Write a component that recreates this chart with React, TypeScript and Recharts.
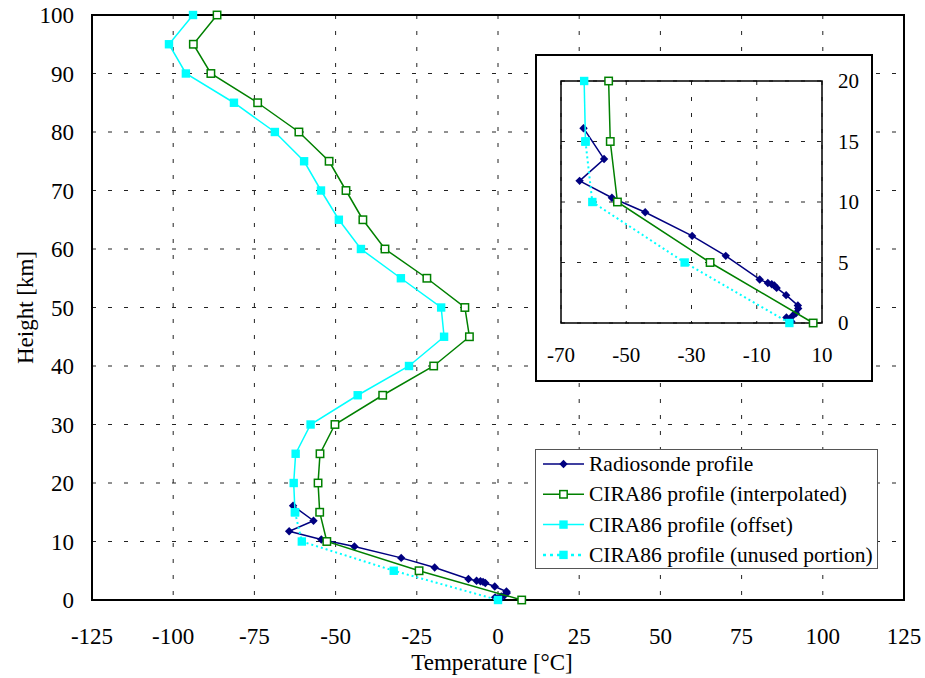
import React from 'react';
import {
  ScatterChart,
  Scatter,
  XAxis,
  YAxis,
  CartesianGrid,
  ReferenceArea,
} from 'recharts';

const NAVY = '#000080';
const GREEN = '#008000';
const CYAN = '#00FFFF';
const GRID = '#222';
const FONT = 'Liberation Serif, DejaVu Serif, serif';

// main axes
const X_TICKS = [-125, -100, -75, -50, -25, 0, 25, 50, 75, 100, 125];
const Y_TICKS = [0, 10, 20, 30, 40, 50, 60, 70, 80, 90, 100];
// zoomed troposphere panel
const INSET_X_TICKS = [-70, -50, -30, -10, 10];
const INSET_Y_TICKS = [0, 5, 10, 15, 20];

// radiosonde ascent, surface upwards (km, °C)
const SONDE_H = [0.12, 0.27, 0.45, 0.6, 0.8, 1.2, 1.45, 2.3, 2.9, 3.1, 3.2, 3.3, 3.6, 5.55, 7.2, 9.15, 10.35, 11.75, 13.55, 16.1];
const SONDE_T = [0.6, 0, -0.9, 1.0, 2.0, 2.7, 2.6, -1.0, -3.9, -4.6, -5.4, -6.6, -9.1, -19.5, -29.8, -44.2, -54.4, -64.3, -56.8, -63.1];

// CIRA86 levels, top down
const CIRA_H = [100, 95, 90, 85, 80, 75, 70, 65, 60, 55, 50, 45, 40, 35, 30, 25, 20, 15, 10, 5, 0];
const CIRA_INTERP_T = [-86.5, -93.8, -88.4, -74.0, -61.3, -52.0, -46.8, -41.6, -34.8, -21.9, -10.2, -8.8, -19.8, -35.5, -50.2, -54.8, -55.4, -54.9, -52.7, -24.3, 7.3];
const CIRA_OFFSET_T = [-93.9, -101.3, -96.1, -81.3, -68.7, -59.7, -54.5, -49.0, -42.2, -29.9, -17.5, -16.6, -27.4, -43.2, -57.7, -62.3, -62.9, -62.5, -60.4, -32.1, 0];
// offset profile is used down to 15 km, the rest is the unused tail
const OFFSET_CUT = 17;

type Pt = { t: number; h: number };
const toPoints = (temps: number[], heights: number[]): Pt[] =>
  temps.map((t, i) => ({ t, h: heights[i] }));

const sonde = toPoints(SONDE_T, SONDE_H);
const ciraInterp = toPoints(CIRA_INTERP_T, CIRA_H);
const ciraOffsetAll = toPoints(CIRA_OFFSET_T, CIRA_H);
const ciraOffset = ciraOffsetAll.slice(0, OFFSET_CUT + 1);
const ciraUnused = ciraOffsetAll.slice(OFFSET_CUT);

const Diamond = (props: any) => {
  const { cx, cy } = props;
  if (cx == null || cy == null) return null;
  const r = 4.2;
  return <path d={`M${cx},${cy - r}L${cx + r},${cy}L${cx},${cy + r}L${cx - r},${cy}Z`} fill={NAVY} />;
};

const OpenSquare = (props: any) => {
  const { cx, cy } = props;
  if (cx == null || cy == null) return null;
  return <rect x={cx - 3.7} y={cy - 3.7} width={7.4} height={7.4} fill="#fff" stroke={GREEN} strokeWidth={1.5} />;
};

const FilledSquare = (props: any) => {
  const { cx, cy } = props;
  if (cx == null || cy == null) return null;
  return <rect x={cx - 4.2} y={cy - 4.2} width={8.4} height={8.4} fill={CYAN} />;
};

const tickStyle = (size: number) => ({ fontSize: size, fill: '#000', fontFamily: FONT, style: { fontFamily: FONT } });

function renderSeries(maxH?: number) {
  const keep = (pts: Pt[]) => (maxH == null ? pts : pts.filter((p) => p.h <= maxH));
  return [
    <Scatter key="sonde" data={keep(sonde)} fill={NAVY} shape={Diamond}
      line={{ stroke: NAVY, strokeWidth: 1.5 }} lineType="joint" isAnimationActive={false} />,
    <Scatter key="interp" data={keep(ciraInterp)} fill={GREEN} shape={OpenSquare}
      line={{ stroke: GREEN, strokeWidth: 1.5 }} lineType="joint" isAnimationActive={false} />,
    <Scatter key="offset" data={keep(ciraOffset)} fill={CYAN} shape={FilledSquare}
      line={{ stroke: CYAN, strokeWidth: 1.5 }} lineType="joint" isAnimationActive={false} />,
    <Scatter key="unused" data={keep(ciraUnused)} fill={CYAN} shape={FilledSquare}
      line={{ stroke: CYAN, strokeWidth: 2, strokeDasharray: '2 3' }} lineType="joint" isAnimationActive={false} />,
  ];
}

const LEGEND = [
  { label: 'Radiosonde profile', color: NAVY, marker: 'diamond', dash: undefined },
  { label: 'CIRA86 profile (interpolated)', color: GREEN, marker: 'open', dash: undefined },
  { label: 'CIRA86 profile (offset)', color: CYAN, marker: 'filled', dash: undefined },
  { label: 'CIRA86 profile (unused portion)', color: CYAN, marker: 'filled', dash: '3 4' },
];

function LegendBox() {
  const rowH = 30.3;
  return (
    <div style={{ position: 'absolute', left: 535, top: 449, width: 343, height: 120, boxSizing: 'border-box', border: '1.5px solid #555', background: '#fff' }}>
      <svg width={340} height={117}>
        {LEGEND.map((it, i) => {
          const y = 14 + i * rowH;
          const mx = 27.5;
          return (
            <g key={it.label}>
              <line x1={7} x2={48} y1={y} y2={y} stroke={it.color} strokeWidth={it.dash ? 2.5 : 1.5} strokeDasharray={it.dash} />
              {it.marker === 'diamond' && <Diamond cx={mx} cy={y} />}
              {it.marker === 'open' && <OpenSquare cx={mx} cy={y} />}
              {it.marker === 'filled' && <FilledSquare cx={mx} cy={y} />}
              <text x={53} y={y + 7} fontSize={21.5} style={{ fontFamily: FONT }} fill="#000">{it.label}</text>
            </g>
          );
        })}
      </svg>
    </div>
  );
}

export default function App() {
  return (
    <div style={{ position: 'absolute', left: 0, top: 0, width: 925, height: 678, background: '#fff', fontFamily: FONT }}>
      <ScatterChart width={925} height={678} margin={{ top: 15, right: 21, bottom: 18, left: 0 }} style={{ fontFamily: FONT }}>
        <CartesianGrid stroke={GRID} strokeDasharray="4 12" />
        <XAxis
          type="number"
          dataKey="t"
          domain={[-125, 125]}
          ticks={X_TICKS}
          height={60}
          axisLine={false}
          tickLine={false}
          tickSize={0}
          tickMargin={28}
          tick={tickStyle(23)}
          label={{
            content: (p: any) => {
              const vb = p.viewBox || { x: 92, width: 812, y: 600, height: 60 };
              return (
                <text x={vb.x + vb.width / 2 - 6} y={vb.y + 70} textAnchor="middle" fontSize={23} style={{ fontFamily: FONT }} fill="#000">
                  Temperature [°C]
                </text>
              );
            },
          }}
        />
        <YAxis
          type="number"
          dataKey="h"
          domain={[0, 100]}
          ticks={Y_TICKS}
          width={92}
          axisLine={false}
          tickLine={false}
          tickSize={0}
          tickMargin={18}
          tick={tickStyle(23)}
          label={{
            content: (p: any) => {
              const vb = p.viewBox || { x: 0, width: 92, y: 15, height: 585 };
              const cx = vb.x + 33;
              const cy = vb.y + vb.height / 2;
              return (
                <text x={cx} y={cy} transform={`rotate(-90, ${cx}, ${cy})`} textAnchor="middle" fontSize={23} style={{ fontFamily: FONT }} fill="#000">
                  Height [km]
                </text>
              );
            },
          }}
        />
        <ReferenceArea x1={-125} x2={125} y1={0} y2={100} fill="none" stroke="#000" strokeWidth={2} />
        {renderSeries()}
      </ScatterChart>

      <div style={{ position: 'absolute', left: 535, top: 54, width: 338, height: 328, boxSizing: 'border-box', border: '2px solid #000', background: '#fff' }}>
        <ScatterChart width={334} height={324} margin={{ top: 25, right: 0, bottom: 0, left: 24 }} style={{ fontFamily: FONT }}>
          <CartesianGrid stroke={GRID} strokeDasharray="4 12" />
          <XAxis
            type="number"
            dataKey="t"
            domain={[-70, 10]}
            ticks={INSET_X_TICKS}
            height={57}
            axisLine={false}
            tickLine={false}
            tickSize={0}
            tickMargin={24}
            tick={tickStyle(21)}
          />
          <YAxis
            type="number"
            dataKey="h"
            orientation="right"
            domain={[0, 20]}
            ticks={INSET_Y_TICKS}
            width={49}
            axisLine={false}
            tickLine={false}
            tickSize={0}
            tickMargin={16}
            tick={tickStyle(21)}
          />
          <ReferenceArea x1={-70} x2={10} y1={0} y2={20} fill="none" stroke="#000" strokeWidth={1.5} />
          {renderSeries(20)}
        </ScatterChart>
      </div>

      <LegendBox />
    </div>
  );
}
